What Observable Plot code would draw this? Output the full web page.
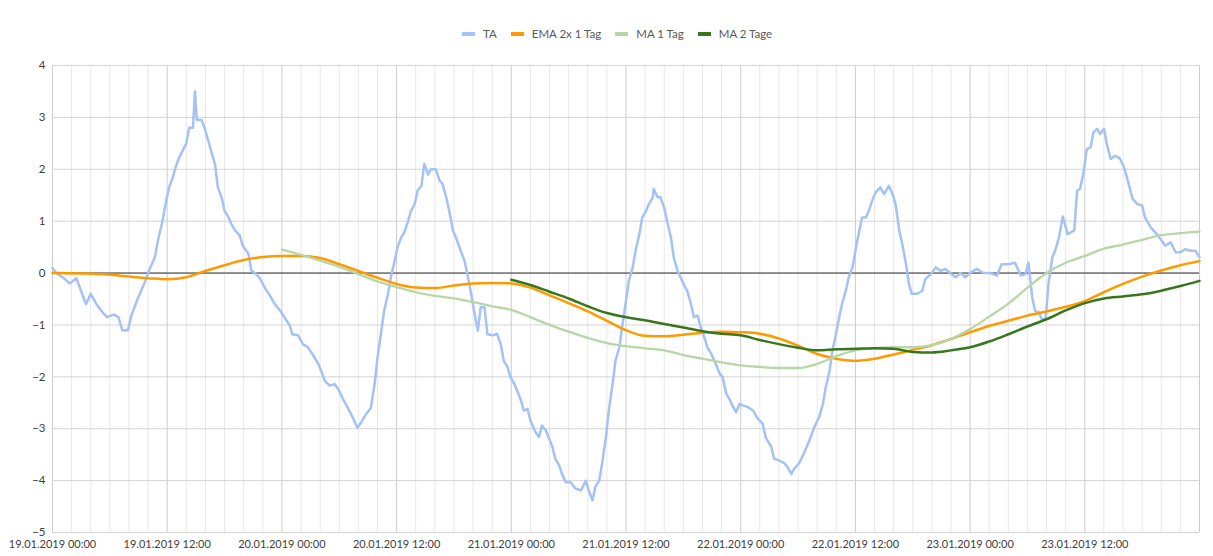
<!DOCTYPE html>
<html>
<head>
<meta charset="utf-8">
<script src="https://cdn.jsdelivr.net/npm/d3@7"></script>
<script src="https://cdn.jsdelivr.net/npm/@observablehq/plot@0.6"></script>
<style>
  body { margin: 0; background: #fff; font-family: Lato, "Open Sans", sans-serif; }
  #wrap { position: relative; width: 1213px; height: 556px; }
  #legend { position: absolute; top: 27px; left: 462px; display: flex; align-items: center; font-size: 11.5px; color: #595959; }
  #legend .item { display: flex; align-items: center; margin-right: 14px; }
  #legend .sw { width: 13px; height: 4px; margin-right: 8px; }
  #chart { position: absolute; top: 0; left: 0; }
</style>
</head>
<body>
<div id="wrap">
  <div id="chart"></div>
  <div id="legend"></div>
</div>
<script>
// hours after 19.01.2019 00:00
const start = new Date(Date.UTC(2019, 0, 19))
const toDate = h => new Date(start.getTime() + h * 3600 * 1000)

// TA (raw series)
const taHours = [0,0.4,1.2,1.8,2.5,3.0,3.5,4.0,4.6,5.2,5.7,6.4,6.9,7.3,7.9,8.2,8.9,9.6,10.1,10.7,11.0,11.5,11.9,12.2,12.6,12.9,13.3,13.6,14.0,14.3,14.7,14.9,15.1,15.6,15.9,16.3,16.6,17.0,17.3,17.7,18.0,18.4,18.7,19.1,19.6,19.9,20.5,20.8,21.3,21.7,22.2,22.7,23.2,23.8,24.1,24.5,24.8,25.1,25.7,26.2,26.7,27.2,27.8,28.1,28.5,29.0,29.5,29.9,30.4,30.9,31.4,31.9,32.3,32.8,33.3,33.7,34.0,34.4,34.7,35.1,35.4,35.8,36.1,36.5,36.8,37.2,37.5,37.9,38.2,38.6,38.9,39.3,39.6,40.1,40.5,40.8,41.2,41.5,41.9,42.2,42.7,43.1,43.4,43.8,44.1,44.5,44.8,45.2,45.5,46.1,46.5,46.9,47.2,47.6,47.9,48.3,48.6,49.0,49.3,49.7,50.0,50.5,50.9,51.2,51.6,51.9,52.3,52.6,53.0,53.3,53.7,54.2,54.7,55.3,55.8,56.1,56.5,56.8,57.2,57.5,57.9,58.2,58.6,58.9,59.3,59.6,60.0,60.3,60.7,61.0,61.4,61.7,62.1,62.4,62.8,62.9,63.3,63.6,64.0,64.3,64.7,65.0,65.4,65.7,66.1,66.4,66.8,67.1,67.5,67.8,68.2,68.5,68.9,69.4,69.8,70.1,70.5,70.8,71.2,71.5,71.9,72.2,72.7,73.3,73.8,74.3,74.6,75.2,75.5,76.0,76.6,76.9,77.3,77.6,78.1,78.6,79.2,79.7,80.2,80.6,80.9,81.3,81.6,81.9,82.3,82.6,83.0,83.3,83.7,84.0,84.4,84.7,85.1,85.4,85.8,86.1,86.6,87.0,87.5,87.9,88.2,88.6,88.9,89.3,89.6,89.9,90.5,91.0,91.3,91.9,92.4,92.9,93.4,93.9,94.5,95.0,95.5,96.0,96.7,97.4,98.1,98.8,99.3,100.0,100.7,101.3,101.8,102.1,102.5,102.8,103.2,103.5,103.9,104.2,104.6,104.9,105.3,105.7,106.2,106.5,106.9,107.2,107.5,107.9,108.2,108.6,108.9,109.3,109.6,110.0,110.3,110.7,111.2,111.7,112.1,112.4,113.0,113.5,114.0,114.3,114.9,115.4,115.9,116.4,117.0,117.5,118.0,118.5,119.1,119.6,120]
const taValues = [0.1,0.0,-0.1,-0.2,-0.1,-0.35,-0.6,-0.4,-0.6,-0.75,-0.85,-0.8,-0.85,-1.1,-1.1,-0.85,-0.5,-0.2,0.05,0.3,0.6,1.0,1.4,1.65,1.85,2.05,2.25,2.35,2.5,2.8,2.8,3.5,2.95,2.95,2.8,2.55,2.35,2.1,1.65,1.45,1.2,1.08,0.95,0.82,0.72,0.53,0.37,0.05,-0.02,-0.1,-0.28,-0.42,-0.58,-0.72,-0.8,-0.92,-1.0,-1.18,-1.2,-1.37,-1.43,-1.56,-1.75,-1.88,-2.08,-2.17,-2.14,-2.24,-2.43,-2.6,-2.78,-2.98,-2.88,-2.72,-2.6,-2.14,-1.63,-1.11,-0.73,-0.4,-0.08,0.24,0.5,0.69,0.78,1.0,1.2,1.33,1.59,1.68,2.1,1.9,2.0,2.0,1.78,1.72,1.46,1.2,0.82,0.69,0.43,0.24,-0.02,-0.4,-0.73,-1.11,-0.66,-0.66,-1.18,-1.2,-1.17,-1.37,-1.69,-1.81,-2.0,-2.13,-2.26,-2.45,-2.65,-2.62,-2.84,-3.06,-3.16,-2.94,-3.03,-3.16,-3.35,-3.58,-3.7,-3.87,-4.03,-4.03,-4.15,-4.19,-4.0,-4.19,-4.38,-4.12,-4.0,-3.67,-3.16,-2.65,-2.13,-1.69,-1.43,-1.04,-0.53,-0.15,0.11,0.43,0.75,1.07,1.2,1.33,1.46,1.62,1.46,1.46,1.26,1.0,0.69,0.3,0.04,-0.08,-0.24,-0.34,-0.6,-0.85,-0.82,-1.04,-1.24,-1.43,-1.55,-1.75,-1.94,-2.0,-2.33,-2.42,-2.58,-2.68,-2.52,-2.55,-2.58,-2.65,-2.81,-2.9,-3.16,-3.35,-3.58,-3.61,-3.67,-3.74,-3.87,-3.77,-3.67,-3.48,-3.22,-2.97,-2.78,-2.52,-2.2,-1.88,-1.49,-1.24,-0.85,-0.6,-0.34,-0.08,0.11,0.43,0.81,1.07,1.07,1.2,1.42,1.55,1.65,1.52,1.68,1.52,1.33,0.81,0.56,0.17,-0.21,-0.4,-0.4,-0.34,-0.12,-0.02,0.11,0.04,0.08,0.0,-0.08,0.0,-0.08,0.0,0.08,0.0,0.0,-0.05,0.17,0.17,0.2,-0.05,-0.02,0.2,-0.47,-0.73,-0.76,-0.89,-0.89,-0.21,0.3,0.43,0.69,1.09,0.75,0.78,0.82,1.59,1.62,1.97,2.39,2.42,2.71,2.78,2.68,2.78,2.49,2.2,2.26,2.2,2.04,1.85,1.43,1.33,1.3,1.07,0.88,0.78,0.66,0.53,0.59,0.4,0.4,0.46,0.43,0.43,0.3]

// EMA 2x 1 Tag
const emaHours = [0,5,10,12,14,16,18,20,22,24,26,28,30,32,34,36,38,40,42,44,46,48,50,52,54,56,58,60,62,64,66,68,70,72,74,76,78,80,82,84,86,88,90,92,94,96,98,100,102,104,106,108,110,112,114,116,118,120]
const emaValues = [0,-0.02,-0.1,-0.12,-0.08,0.04,0.15,0.25,0.31,0.33,0.33,0.29,0.17,0.04,-0.09,-0.21,-0.28,-0.29,-0.24,-0.2,-0.19,-0.2,-0.28,-0.43,-0.58,-0.74,-0.92,-1.1,-1.21,-1.22,-1.19,-1.15,-1.13,-1.14,-1.17,-1.26,-1.4,-1.56,-1.65,-1.69,-1.65,-1.57,-1.48,-1.39,-1.27,-1.14,-1.02,-0.92,-0.82,-0.74,-0.65,-0.54,-0.37,-0.21,-0.07,0.05,0.15,0.23]

// MA 1 Tag
const ma1Hours = [24,26,28,30,32,34,36,38,40,42,44,46,48,50,52,54,56,58,60,62,64,66,68,70,72,74,76,78,80,82,84,86,88,90,92,94,96,98,100,102,104,106,108,110,112,114,116,118,120]
const ma1Values = [0.45,0.35,0.24,0.12,-0.02,-0.16,-0.27,-0.37,-0.44,-0.49,-0.56,-0.64,-0.71,-0.85,-1.0,-1.13,-1.25,-1.35,-1.41,-1.45,-1.49,-1.58,-1.65,-1.72,-1.78,-1.81,-1.83,-1.83,-1.75,-1.6,-1.49,-1.45,-1.43,-1.43,-1.39,-1.27,-1.08,-0.84,-0.59,-0.28,0.0,0.2,0.33,0.47,0.55,0.64,0.73,0.77,0.8]

// MA 2 Tage
const ma2Hours = [48,50,52,54,56,58,60,62,64,66,68,70,72,74,76,78,80,82,84,86,88,90,92,94,96,98,100,102,104,106,108,110,112,114,116,118,120]
const ma2Values = [-0.13,-0.23,-0.36,-0.49,-0.64,-0.77,-0.85,-0.91,-0.98,-1.05,-1.12,-1.17,-1.2,-1.29,-1.37,-1.44,-1.49,-1.47,-1.46,-1.45,-1.46,-1.52,-1.53,-1.49,-1.43,-1.32,-1.18,-1.03,-0.89,-0.72,-0.58,-0.49,-0.45,-0.41,-0.34,-0.25,-0.15]

const yTicks = [-5,-4,-3,-2,-1,0,1,2,3,4]
const labelHours = [0,12,24,36,48,60,72,84,96,108]
const gridHours = d3.range(0, 121, 2)

const series = [
  {name: "TA", color: "#a4c2f4", width: 2.5, hours: taHours, values: taValues, curve: "step-after"},
  {name: "EMA 2x 1 Tag", color: "#ff9900", width: 2.5, hours: emaHours, values: emaValues, curve: "monotone-x"},
  {name: "MA 1 Tag", color: "#b6d7a8", width: 2.3, hours: ma1Hours, values: ma1Values, curve: "monotone-x"},
  {name: "MA 2 Tage", color: "#38761d", width: 2.5, hours: ma2Hours, values: ma2Values, curve: "monotone-x"},
]
// TA drawn with straight segments, jaggedness from the readings
series[0].curve = "linear"

const fmt = d3.utcFormat("%d.%m.%Y %H:%M")

const plot = Plot.plot({
  width: 1213,
  height: 556,
  marginTop: 65,
  marginBottom: 24,
  marginLeft: 52,
  marginRight: 14,
  style: {fontFamily: "Lato, 'Open Sans', sans-serif", fontSize: "12px", color: "#595959", background: "white"},
  x: {type: "utc", domain: [toDate(0), toDate(120)]},
  y: {domain: [-5, 4]},
  marks: [
    // minor / major vertical grid
    Plot.ruleX(gridHours.filter(h => h % 12 !== 0).map(toDate), {stroke: "#e8e8e8", strokeWidth: 1}),
    Plot.ruleX(gridHours.filter(h => h % 12 === 0).map(toDate), {stroke: "#cccccc", strokeWidth: 1}),
    Plot.ruleY(yTicks, {stroke: "#d4d4d4", strokeWidth: 1}),
    Plot.ruleY([0], {stroke: "#333333", strokeWidth: 1}),
    ...series.map(s => Plot.line(s.hours.map((h, i) => ({t: toDate(h), v: s.values[i]})), {
      x: "t", y: "v", stroke: s.color, strokeWidth: s.width, curve: s.curve, strokeLinejoin: "round"
    })),
    Plot.axisY({ticks: yTicks, tickSize: 0, tickPadding: 7, label: null, fill: "#404040", fontSize: 11.5}),
    Plot.axisX({ticks: labelHours.map(toDate), tickSize: 0, tickPadding: 8, tickFormat: fmt, label: null, fill: "#404040", fontSize: 11})
  ]
})
document.querySelector("#chart").append(plot)

// legend
const legend = document.querySelector("#legend")
series.forEach(s => {
  const item = document.createElement("div")
  item.className = "item"
  item.innerHTML = `<span class="sw" style="background:${s.color}"></span><span>${s.name}</span>`
  legend.append(item)
})
</script>
</body>
</html>
